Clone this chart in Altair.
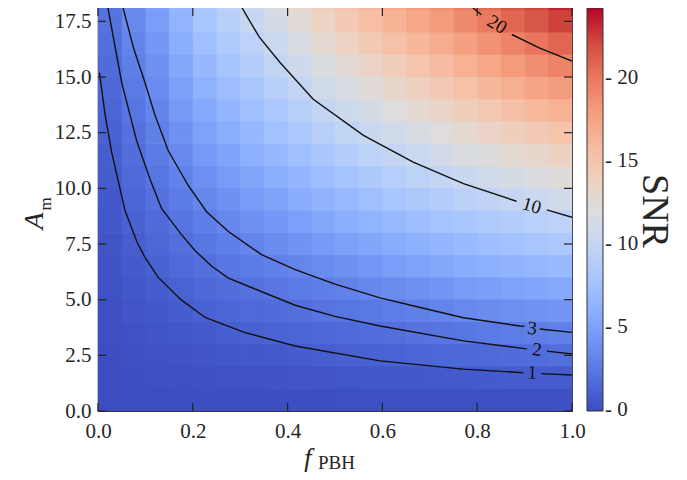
import altair as alt
import pandas as pd

# ---------------- data ----------------
# grid cell centres
f_centers = [0.025, 0.075, 0.125, 0.175, 0.225, 0.275, 0.325, 0.375, 0.425, 0.475,
             0.525, 0.575, 0.625, 0.675, 0.725, 0.775, 0.825, 0.875, 0.925, 0.975]
A_centers = [0.5, 1.5, 2.5, 3.5, 4.5, 5.5, 6.5, 7.5, 8.5, 9.5,
             10.5, 11.5, 12.5, 13.5, 14.5, 15.5, 16.5, 17.5, 18.5]

# SNR per f column (bottom -> top)
snr_cols = [
    [0.00, 0.02, 0.06, 0.11, 0.17, 0.25, 0.33, 0.43, 0.54, 0.66, 0.79, 0.93, 1.10, 1.29, 1.48, 1.67, 1.87, 2.06, 2.17],
    [0.02, 0.08, 0.18, 0.30, 0.43, 0.58, 0.75, 0.93, 1.14, 1.35, 1.57, 1.79, 2.01, 2.27, 2.53, 2.80, 3.08, 3.43, 3.62],
    [0.02, 0.12, 0.27, 0.44, 0.64, 0.87, 1.13, 1.42, 1.71, 1.99, 2.28, 2.57, 2.86, 3.20, 3.58, 3.96, 4.34, 4.72, 4.93],
    [0.03, 0.16, 0.35, 0.59, 0.85, 1.17, 1.51, 1.85, 2.21, 2.58, 2.96, 3.43, 3.92, 4.41, 4.90, 5.39, 5.88, 6.37, 6.64],
    [0.04, 0.21, 0.46, 0.76, 1.11, 1.50, 1.90, 2.32, 2.76, 3.25, 3.83, 4.41, 4.98, 5.56, 6.14, 6.72, 7.29, 7.87, 8.19],
    [0.05, 0.25, 0.54, 0.90, 1.34, 1.79, 2.26, 2.73, 3.28, 3.92, 4.56, 5.20, 5.84, 6.48, 7.12, 7.76, 8.40, 9.04, 9.39],
    [0.06, 0.29, 0.63, 1.04, 1.52, 2.00, 2.56, 3.16, 3.86, 4.56, 5.25, 5.95, 6.65, 7.35, 8.05, 8.74, 9.44, 10.15, 10.54],
    [0.06, 0.34, 0.72, 1.20, 1.70, 2.25, 2.88, 3.61, 4.37, 5.14, 5.90, 6.66, 7.43, 8.19, 8.95, 9.71, 10.50, 11.30, 11.73],
    [0.07, 0.38, 0.82, 1.35, 1.89, 2.51, 3.20, 4.04, 4.87, 5.71, 6.55, 7.39, 8.22, 9.06, 9.90, 10.77, 11.64, 12.51, 12.98],
    [0.08, 0.43, 0.92, 1.49, 2.08, 2.75, 3.57, 4.47, 5.37, 6.27, 7.18, 8.08, 8.98, 9.88, 10.82, 11.76, 12.70, 13.64, 14.15],
    [0.09, 0.48, 1.02, 1.63, 2.27, 2.99, 3.95, 4.90, 5.86, 6.81, 7.77, 8.72, 9.68, 10.66, 11.65, 12.65, 13.64, 14.64, 15.18],
    [0.10, 0.53, 1.13, 1.75, 2.47, 3.31, 4.31, 5.31, 6.31, 7.31, 8.31, 9.32, 10.33, 11.37, 12.41, 13.45, 14.49, 15.53, 16.10],
    [0.11, 0.57, 1.22, 1.88, 2.67, 3.62, 4.67, 5.72, 6.77, 7.81, 8.86, 9.91, 11.00, 12.09, 13.18, 14.27, 15.36, 16.45, 17.05],
    [0.12, 0.62, 1.31, 2.03, 2.86, 3.91, 5.00, 6.10, 7.19, 8.28, 9.38, 10.49, 11.62, 12.76, 13.89, 15.03, 16.16, 17.30, 17.92],
    [0.13, 0.67, 1.41, 2.19, 3.10, 4.23, 5.37, 6.50, 7.63, 8.77, 9.90, 11.06, 12.23, 13.39, 14.56, 15.73, 16.89, 18.06, 18.70],
    [0.14, 0.71, 1.49, 2.35, 3.37, 4.54, 5.71, 6.87, 8.04, 9.21, 10.39, 11.62, 12.85, 14.08, 15.31, 16.54, 17.77, 19.00, 19.67],
    [0.15, 0.75, 1.58, 2.50, 3.59, 4.80, 6.01, 7.21, 8.42, 9.63, 10.89, 12.17, 13.46, 14.74, 16.03, 17.31, 18.60, 19.88, 20.61],
    [0.15, 0.79, 1.68, 2.64, 3.80, 5.04, 6.28, 7.52, 8.77, 10.01, 11.36, 12.70, 14.05, 15.39, 16.73, 18.08, 19.42, 20.83, 21.62],
    [0.16, 0.84, 1.77, 2.77, 3.99, 5.28, 6.57, 7.86, 9.15, 10.47, 11.85, 13.22, 14.60, 15.98, 17.35, 18.73, 20.12, 21.62, 22.45],
    [0.17, 0.88, 1.88, 2.89, 4.19, 5.52, 6.85, 8.19, 9.52, 10.90, 12.32, 13.73, 15.14, 16.55, 17.96, 19.38, 20.87, 22.50, 23.48],
]

# contour lines (f, A); each contour is split in two pieces around its label
c1_f_a = [0.003, 0.015, 0.029, 0.057, 0.082, 0.099, 0.127, 0.175, 0.226, 0.31, 0.416, 0.595, 0.77, 0.89, 0.897]
c1_A_a = [15.2, 13.3, 11.6, 9.0, 7.6, 6.9, 6.0, 5.0, 4.2, 3.52, 2.92, 2.25, 1.88, 1.73, 1.72]
c1_f_b = [0.935, 1.0]
c1_A_b = [1.68, 1.62]

c2_f_a = [0.021, 0.05, 0.082, 0.11, 0.134, 0.177, 0.205, 0.24, 0.275, 0.352, 0.416, 0.5, 0.595, 0.771, 0.9, 0.905]
c2_A_a = [18.1, 14.75, 12.1, 10.4, 9.1, 7.9, 7.2, 6.5, 5.97, 5.3, 4.75, 4.25, 3.82, 3.15, 2.8, 2.79]
c2_f_b = [0.947, 1.0]
c2_A_b = [2.69, 2.56]

c3_f_a = [0.053, 0.075, 0.099, 0.12, 0.148, 0.19, 0.229, 0.275, 0.345, 0.416, 0.5, 0.595, 0.68, 0.771, 0.89, 0.9]
c3_A_a = [18.1, 16.3, 14.75, 13.3, 11.7, 10.14, 8.95, 8.06, 7.02, 6.35, 5.7, 5.08, 4.65, 4.19, 3.82, 3.8]
c3_f_b = [0.932, 1.0]
c3_A_b = [3.68, 3.53]

c10_f_a = [0.304, 0.34, 0.384, 0.454, 0.56, 0.665, 0.771, 0.883]
c10_A_a = [18.1, 16.8, 15.65, 14.0, 12.38, 11.18, 10.21, 9.42]
c10_f_b = [0.947, 1.0]
c10_A_b = [9.03, 8.70]

c20_f_a = [0.791, 0.809]
c20_A_a = [18.1, 17.8]
c20_f_b = [0.873, 0.932, 1.0]
c20_A_b = [16.91, 16.3, 15.72]

# contour labels
label_text = ["1", "2", "3", "10", "20"]
label_f = [0.916, 0.926, 0.916, 0.915, 0.842]
label_A = [1.72, 2.76, 3.72, 9.22, 17.36]

# tick values
x_ticks = [0.0, 0.2, 0.4, 0.6, 0.8, 1.0]
y_ticks = [0.0, 2.5, 5.0, 7.5, 10.0, 12.5, 15.0, 17.5]
cbar_ticks = [0, 5, 10, 15, 20]
snr_min = -0.05
snr_max = 24.2
A_max = 18.1

# ---------------- styling ----------------
FONT = "Liberation Serif"
TXT = "#262626"
W, H = 474, 403
label_angle = [2, 7, 6, 16, 32]
coolwarm = ["#3b4cc0", "#4d68d7", "#6282ea", "#779af7", "#8db0fe", "#a3c2ff",
            "#b8d0f9", "#ccd9ee", "#dddddd", "#ecd3c5", "#f5c4ac", "#f7b193",
            "#f49a7b", "#ec7f63", "#de604d", "#cb3e38", "#b40426"]
stops = [snr_min + (snr_max - snr_min) * i / (len(coolwarm) - 1) for i in range(len(coolwarm))]

# ---------------- tables ----------------
hf = (f_centers[1] - f_centers[0]) / 2
ha = (A_centers[1] - A_centers[0]) / 2
cells = []
for i, fc in enumerate(f_centers):
    for j, ac in enumerate(A_centers):
        # tiny overlap so neighbouring cells leave no hairline seams
        cells.append({"f0": fc - hf, "f1": fc + hf * 1.06, "a0": ac - ha, "a1": ac + ha * 1.06,
                      "snr": snr_cols[i][j]})
cells = pd.DataFrame(cells)

lines = []
pieces = [
    ("1a", c1_f_a, c1_A_a), ("1b", c1_f_b, c1_A_b),
    ("2a", c2_f_a, c2_A_a), ("2b", c2_f_b, c2_A_b),
    ("3a", c3_f_a, c3_A_a), ("3b", c3_f_b, c3_A_b),
    ("10a", c10_f_a, c10_A_a), ("10b", c10_f_b, c10_A_b),
    ("20a", c20_f_a, c20_A_a), ("20b", c20_f_b, c20_A_b),
]
for name, fs, As in pieces:
    for k, (fv, av) in enumerate(zip(fs, As)):
        lines.append({"seg": name, "order": k, "f": fv, "A": av})
lines = pd.DataFrame(lines)

labels = pd.DataFrame({"f": label_f, "A": label_A, "t": label_text, "ang": label_angle})
xt = pd.DataFrame({"f": x_ticks})
yt = pd.DataFrame({"A": y_ticks})

xscale = alt.Scale(domain=[0, 1], nice=False, zero=False)
yscale = alt.Scale(domain=[0, A_max], nice=False, zero=False)
cscale = alt.Scale(domain=stops, range=coolwarm, interpolate="rgb")

axis_common = dict(title=None, ticks=False, domain=False, grid=False,
                   labelFont=FONT, labelFontSize=21, labelColor=TXT,
                   labelFlush=False, labelOverlap=False, format=".1f")

heat = alt.Chart(cells).mark_rect(clip=True).encode(
    x=alt.X("f0:Q", scale=xscale, axis=alt.Axis(values=x_ticks, labelPadding=9, **axis_common)),
    x2="f1:Q",
    y=alt.Y("a0:Q", scale=yscale, axis=alt.Axis(values=y_ticks, labelPadding=7, **axis_common)),
    y2="a1:Q",
    color=alt.Color("snr:Q", scale=cscale, legend=alt.Legend(
        type="gradient", orient="none", legendX=489, legendY=0, direction="vertical",
        gradientLength=H, gradientThickness=16, title=None, values=cbar_ticks,
        labelFont=FONT, labelFontSize=21, labelColor=TXT, labelOffset=2,
        labelBaseline="middle", labelOverlap=False,
        labelExpr="'- ' + datum.label", gradientStrokeColor="#333333",
        gradientStrokeWidth=1)),
)

contours = alt.Chart(lines).mark_line(color="#111111", strokeWidth=1.4, clip=True).encode(
    x="f:Q", y="A:Q", detail="seg:N", order="order:Q",
)

clabels = alt.Chart(labels).mark_text(font=FONT, fontSize=19, color="#111111",
                                      align="center", baseline="middle").encode(
    x="f:Q", y="A:Q", text="t:N", angle=alt.Angle("ang:Q", scale=None),
)

tick_style = dict(color="#222222", strokeWidth=1.2)
xt_bot = alt.Chart(xt).mark_rule(**tick_style).encode(
    x="f:Q", y=alt.value(H), y2=alt.value(H - 8))
xt_top = alt.Chart(xt).mark_rule(**tick_style).encode(
    x="f:Q", y=alt.value(0), y2=alt.value(8))
yt_left = alt.Chart(yt).mark_rule(**tick_style).encode(
    y="A:Q", x=alt.value(0), x2=alt.value(8))
yt_right = alt.Chart(yt).mark_rule(**tick_style).encode(
    y="A:Q", x=alt.value(W), x2=alt.value(W - 8))

one = pd.DataFrame({"k": [0]})
xt_f = alt.Chart(one).mark_text(text="f", font=FONT, fontSize=27, fontStyle="italic",
                                color=TXT, align="left", baseline="alphabetic").encode(
    x=alt.value(206), y=alt.value(459))
xt_sub = alt.Chart(one).mark_text(text="PBH", font=FONT, fontSize=19,
                                  color=TXT, align="left", baseline="alphabetic").encode(
    x=alt.value(220), y=alt.value(461))
yt_A = alt.Chart(one).mark_text(text="A", font=FONT, fontSize=28, fontStyle="italic",
                                color=TXT, align="center", baseline="alphabetic",
                                angle=270).encode(
    x=alt.value(-55), y=alt.value(213))
yt_sub = alt.Chart(one).mark_text(text="m", font=FONT, fontSize=17,
                                  color=TXT, align="center", baseline="alphabetic",
                                  angle=270).encode(
    x=alt.value(-47), y=alt.value(196))
snr_title = alt.Chart(one).mark_text(text="SNR", font=FONT, fontSize=38,
                                     color=TXT, align="center", baseline="alphabetic",
                                     angle=90).encode(
    x=alt.value(545), y=alt.value(203))

chart = alt.layer(
    heat, contours, clabels, xt_bot, xt_top, yt_left, yt_right,
    xt_f, xt_sub, yt_A, yt_sub, snr_title,
).properties(
    width=W, height=H,
    autosize=alt.AutoSizeParams(type="none"),
    padding={"left": 90, "top": 0, "right": 107, "bottom": 61},
).configure_view(stroke="#333333", strokeWidth=1.2)

chart.save("out.html", embed_options={"renderer": "svg", "actions": False})
